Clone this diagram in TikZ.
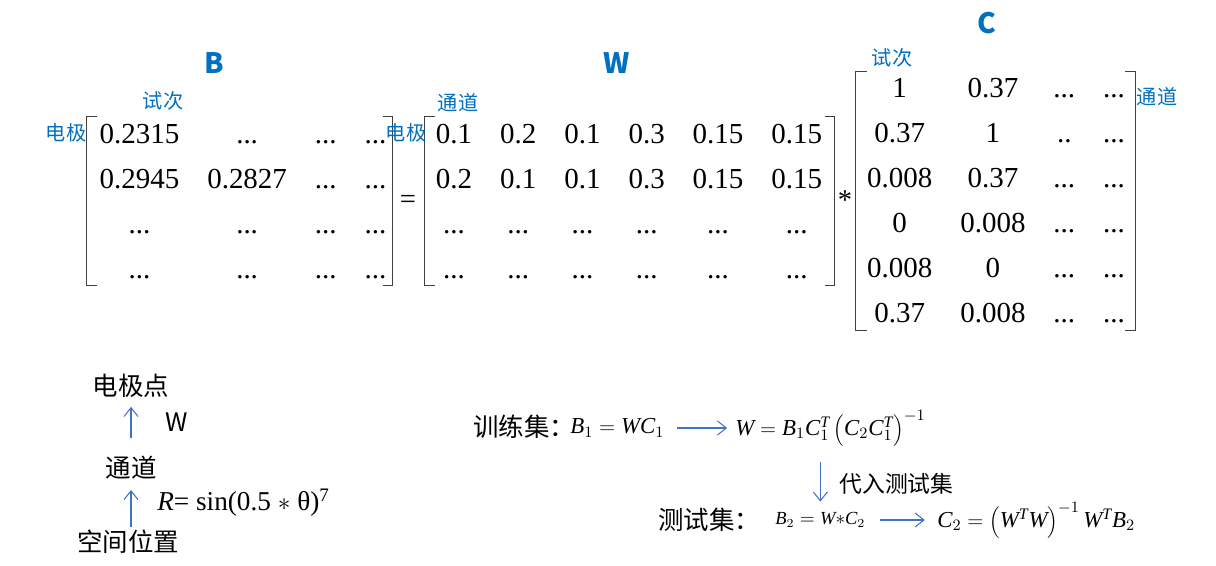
\documentclass[tikz,border=0pt]{standalone}
\usepackage{fontspec}
\setmainfont{Liberation Serif}
\newfontfamily\cjk{Noto Sans CJK SC}
\usepackage{tikz}
\usetikzlibrary{arrows.meta,positioning,matrix}
\definecolor{label-blue}{HTML}{0070C0}
\definecolor{arrow-blue}{HTML}{4472C4}
\tikzset{
  mat-entry/.style={inner sep=0pt, minimum height=0.9cm, text height=11pt, text depth=0pt,
    font=\fontsize{16.5pt}{19pt}\selectfont},
  mat-array/.style={matrix of nodes, nodes={mat-entry}, column sep=0.56cm, row sep=0pt, inner sep=0pt},
  mat-bracket/.style={draw=black!75, line width=0.6pt},
  mat-title/.style={text=label-blue, font=\cjk\bfseries\fontsize{16pt}{18pt}\selectfont},
  mat-axis/.style={text=label-blue, font=\cjk\fontsize{11.5pt}{13pt}\selectfont, inner sep=0pt},
  chain-text/.style={font=\cjk\fontsize{14.5pt}{17pt}\selectfont, inner sep=0pt},
  eq-text/.style={font=\fontsize{13pt}{16pt}\selectfont, inner sep=0pt, anchor=west},
  flow/.style={draw=arrow-blue, line width=0.6pt, -{Straight Barb[length=5pt,width=8pt]}}
}
\begin{document}
\begin{tikzpicture}[x=0.02cm, y=-0.02cm]
  \useasboundingbox (0,0) rectangle (1216,565);
  \matrix[mat-array] (mB) at (243,201) {
    0.2315 & ... & ... & ... \\
    0.2945 & 0.2827 & ... & ... \\
    ... & ... & ... & ... \\
    ... & ... & ... & ... \\
  };
  \draw[mat-bracket] ([shift={(-2,6)}]mB.north west) -- ++(-11,0) |- ([shift={(-2,-6)}]mB.south west);
  \draw[mat-bracket] ([shift={(-4,6)}]mB.north east) -- ++(10,0) |- ([shift={(-4,-6)}]mB.south east);
  \matrix[mat-array] (mW) at (629,201) {
    0.1 & 0.2 & 0.1 & 0.3 & 0.15 & 0.15 \\
    0.2 & 0.1 & 0.1 & 0.3 & 0.15 & 0.15 \\
    ... & ... & ... & ... & ... & ... \\
    ... & ... & ... & ... & ... & ... \\
  };
  \draw[mat-bracket] ([shift={(0,6)}]mW.north west) -- ++(-11,0) |- ([shift={(0,-6)}]mW.south west);
  \draw[mat-bracket] ([shift={(2,6)}]mW.north east) -- ++(10,0) |- ([shift={(2,-6)}]mW.south east);
  \matrix[mat-array] (mC) at (996,200) {
    1 & 0.37 & ... & ... \\
    0.37 & 1 & .. & ... \\
    0.008 & 0.37 & ... & ... \\
    0 & 0.008 & ... & ... \\
    0.008 & 0 & ... & ... \\
    0.37 & 0.008 & ... & ... \\
  };
  \draw[mat-bracket] ([shift={(0,7)}]mC.north west) -- ++(-11,0) |- ([shift={(0,-5)}]mC.south west);
  \draw[mat-bracket] ([shift={(0,7)}]mC.north east) -- ++(10,0) |- ([shift={(0,-5)}]mC.south east);
  \node[mat-title] (tB) at (214,63) {B};
  \node[mat-title] (tW) at (617,63) {W};
  \node[mat-title] (tC) at (987,23) {C};
  \node[mat-axis] (bTrial) at (163,101) {试次};
  \node[mat-axis] (bElec) at (66,133) {电极};
  \node[mat-axis] (wElec) at (406,133) {电极};
  \node[mat-axis] (wChan) at (458,103) {通道};
  \node[mat-axis] (cTrial) at (892,58) {试次};
  \node[mat-axis] (cChan) at (1157,97) {通道};
  \node[font=\fontsize{16.3pt}{19pt}\selectfont] (eqSign) at (408,202) {=};
  \node[font=\fontsize{16.3pt}{19pt}\selectfont] (mulSign) at (845,200) {*};
  \node[chain-text] (elec) at (131,386) {电极点};
  \node[chain-text] (chan) at (131,468) {通道};
  \node[chain-text] (space) at (128,542) {空间位置};
  \draw[flow, shorten <=10pt, shorten >=5pt] (chan.north) -- (elec.south);
  \draw[flow, shorten <=1.7pt, shorten >=5.7pt] (space.north -| chan) -- (chan.south);
  \node[chain-text] (wLbl) at (177,422) {W};
  \node[eq-text, font=\fontsize{15.5pt}{18pt}\selectfont] (rLbl) at (157,503) {\textit{R}= sin(0.5 $\ast$ θ)\textsuperscript{7}};
  \node[chain-text, anchor=west] (train) at (473,427) {训练集：};
  \node[eq-text] (eq1) at (570,428) {$\mathit{B}_1 = \mathit{WC}_1$};
  \node[eq-text] (eq2) at (735,428) {$\mathit{W} = \mathit{B}_1\mathit{C}_1^{\mathit{T}}\left(\mathit{C}_2\mathit{C}_1^{\mathit{T}}\right)^{-1}$};
  \draw[flow, shorten <=7pt, shorten >=4.5pt] (eq1) -- (eq2);
  \node[chain-text, anchor=west] (test) at (658,520) {测试集：};
  \node[eq-text, font=\fontsize{10.5pt}{13pt}\selectfont] (eq3) at (775,520) {$\mathit{B}_2 = \mathit{W}{*}\mathit{C}_2$};
  \node[eq-text] (eq4) at (937,520) {$\mathit{C}_2 = \left(\mathit{W}^{\mathit{T}}\mathit{W}\right)^{-1}\mathit{W}^{\mathit{T}}\mathit{B}_2$};
  \draw[flow, shorten <=8pt, shorten >=7pt] (eq3) -- (eq4);
  \draw[flow, shorten <=9pt, shorten >=6pt] (eq3.north |- eq2.south) -- (eq3.north);
  \node[chain-text, anchor=west, font=\cjk\fontsize{13pt}{15pt}\selectfont] (subst) at (839,484) {代入测试集};
\end{tikzpicture}
\end{document}
